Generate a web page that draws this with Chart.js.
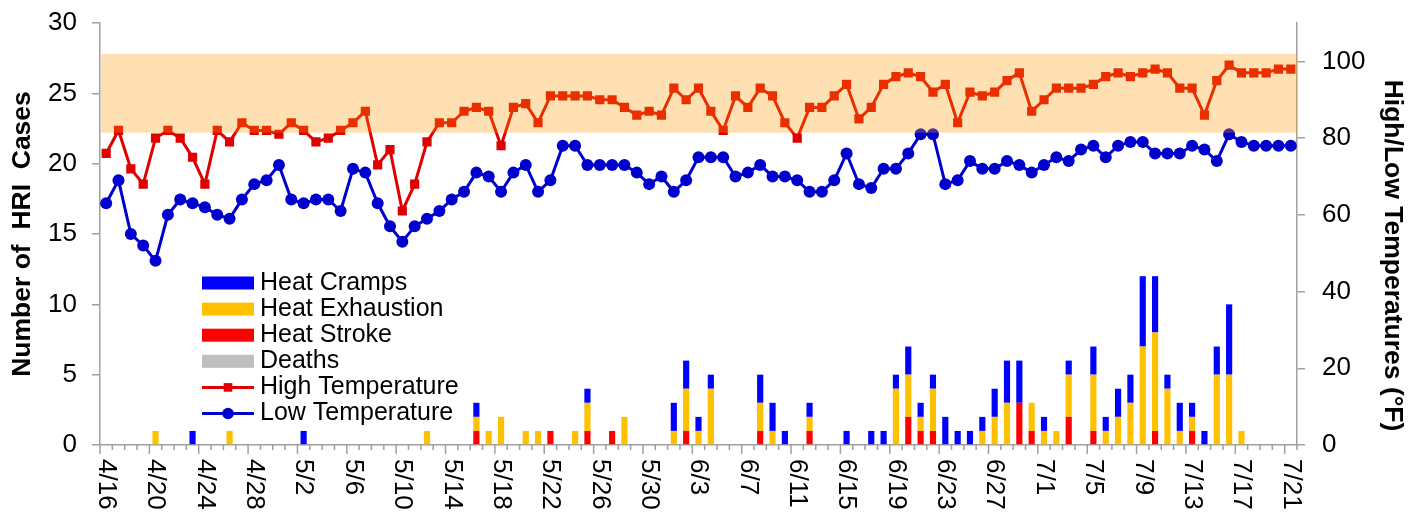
<!DOCTYPE html>
<html>
<head>
<meta charset="utf-8">
<script src="https://cdn.jsdelivr.net/npm/chart.js@4.4.0/dist/chart.umd.min.js"></script>
<style>
  html, body { margin: 0; padding: 0; background: #ffffff; }
  #wrap { width: 1419px; height: 514px; }
</style>
</head>
<body>
<div id="wrap"><canvas id="c" width="1419" height="514"></canvas></div>
<script>
// ---------------- data ----------------
const DATES = [
  '4/16','4/17','4/18','4/19','4/20','4/21','4/22','4/23','4/24','4/25','4/26','4/27','4/28','4/29','4/30',
  '5/1','5/2','5/3','5/4','5/5','5/6','5/7','5/8','5/9','5/10','5/11','5/12','5/13','5/14','5/15','5/16',
  '5/17','5/18','5/19','5/20','5/21','5/22','5/23','5/24','5/25','5/26','5/27','5/28','5/29','5/30','5/31',
  '6/1','6/2','6/3','6/4','6/5','6/6','6/7','6/8','6/9','6/10','6/11','6/12','6/13','6/14','6/15',
  '6/16','6/17','6/18','6/19','6/20','6/21','6/22','6/23','6/24','6/25','6/26','6/27','6/28','6/29','6/30',
  '7/1','7/2','7/3','7/4','7/5','7/6','7/7','7/8','7/9','7/10','7/11','7/12','7/13','7/14','7/15',
  '7/16','7/17','7/18','7/19','7/20','7/21'
];

const HEAT_STROKE = [
  0,0,0,0,0,0,0,0,0,0,
  0,0,0,0,0,0,0,0,0,0,
  0,0,0,0,0,0,0,0,0,0,
  1,0,0,0,0,0,1,0,0,1,
  0,1,0,0,0,0,0,1,0,0,
  0,0,0,1,0,0,0,1,0,0,
  0,0,0,0,0,2,1,1,0,0,
  0,0,0,0,3,1,0,0,2,0,
  1,0,0,0,0,1,0,0,1,0,
  0,0,0,0,0,0,0
];

const HEAT_EXHAUSTION = [
  0,0,0,0,1,0,0,0,0,0,
  1,0,0,0,0,0,0,0,0,0,
  0,0,0,0,0,0,1,0,0,0,
  1,1,2,0,1,1,0,0,1,2,
  0,0,2,0,0,0,1,3,1,4,
  0,0,0,2,1,0,0,1,0,0,
  0,0,0,0,4,3,1,3,0,0,
  0,1,2,3,0,2,1,1,3,0,
  4,1,2,3,7,7,4,1,1,0,
  5,5,1,0,0,0,0
];

const HEAT_CRAMPS = [
  0,0,0,0,0,0,0,1,0,0,
  0,0,0,0,0,0,1,0,0,0,
  0,0,0,0,0,0,0,0,0,0,
  1,0,0,0,0,0,0,0,0,1,
  0,0,0,0,0,0,2,2,1,1,
  0,0,0,2,2,1,0,1,0,0,
  1,0,1,1,1,2,1,1,2,1,
  1,1,2,3,3,0,1,0,1,0,
  2,1,2,2,5,4,1,2,1,1,
  2,5,0,0,0,0,0
];

const DEATHS = [
  0,0,0,0,0,0,0,0,0,0,
  0,0,0,0,0,0,0,0,0,0,
  0,0,0,0,0,0,0,0,0,0,
  0,0,0,0,0,0,0,0,0,0,
  0,0,0,0,0,0,0,0,0,0,
  0,0,0,0,0,0,0,0,0,0,
  0,0,0,0,0,0,0,0,0,0,
  0,0,0,0,0,0,0,0,0,0,
  0,0,0,0,0,0,0,0,0,0,
  0,0,0,0,0,0,0
];

const HIGH_TEMP = [
  76,82,72,68,80,82,80,75,68,82,
  79,84,82,82,81,84,82,79,80,82,
  84,87,73,77,61,68,79,84,84,87,
  88,87,78,88,89,84,91,91,91,91,
  90,90,88,86,87,86,93,90,93,87,
  82,91,88,93,91,84,80,88,88,91,
  94,85,88,94,96,97,96,92,94,84,
  92,91,92,95,97,87,90,93,93,93,
  94,96,97,96,97,98,97,93,93,86,
  95,99,97,97,97,98,98
];

const LOW_TEMP = [
  63,69,55,52,48,60,64,63,62,60,
  59,64,68,69,73,64,63,64,64,61,
  72,71,63,57,53,57,59,61,64,66,
  71,70,66,71,73,66,69,78,78,73,
  73,73,73,71,68,70,66,69,75,75,
  75,70,71,73,70,70,69,66,66,69,
  76,68,67,72,72,76,81,81,68,69,
  74,72,72,74,73,71,73,75,74,77,
  78,75,78,79,79,76,76,76,78,77,
  74,81,79,78,78,78,78
];

// shaded temperature band (right axis, °F)
const BAND_RANGE = [81.4, 101.9];
const LEFT_AXIS = { min: 0, max: 30, step: 5 };
const RIGHT_AXIS = { min: 0, max: 110, step: 20, lastLabel: 100 };
const LABEL_EVERY = 4;
const LEFT_TITLE = 'Number of  HRI  Cases';
const RIGHT_TITLE = 'High/Low Temperatures (°F)';
const LEGEND_ORDER = ['Heat Cramps', 'Heat Exhaustion', 'Heat Stroke', 'Deaths', 'High Temperature', 'Low Temperature'];

// ---------------- styling ----------------
const FONT = "'Liberation Sans', Arial, Helvetica, sans-serif";
const AXIS_GRAY = '#A0A0A0';
Chart.defaults.font.family = FONT;
Chart.defaults.color = '#000000';

const bandPlugin = {
  id: 'tempBand',
  afterDatasetsDraw(chart) {
    const { ctx, chartArea } = chart;
    const y2 = chart.scales.y2;
    const top = y2.getPixelForValue(BAND_RANGE[1]);
    const bot = y2.getPixelForValue(BAND_RANGE[0]);
    ctx.save();
    ctx.fillStyle = 'rgba(255,153,0,0.3)';
    ctx.fillRect(chartArea.left + 1, top, chartArea.right - chartArea.left - 1, bot - top);
    ctx.restore();
  }
};

const xAxisPlugin = {
  id: 'xAxisCustom',
  afterDraw(chart) {
    const { ctx, chartArea } = chart;
    const xs = chart.scales.x;
    const n = DATES.length;
    const w = xs.getPixelForValue(1) - xs.getPixelForValue(0);
    ctx.save();
    ctx.strokeStyle = AXIS_GRAY;
    ctx.lineWidth = 1.5;
    for (let i = 0; i <= n; i++) {
      const px = xs.getPixelForValue(Math.min(i, n - 1)) + (i < n ? -w / 2 : w / 2);
      const len = (i % LABEL_EVERY === 0) ? 9 : 5;
      ctx.beginPath();
      ctx.moveTo(px, chartArea.bottom);
      ctx.lineTo(px, chartArea.bottom + len);
      ctx.stroke();
    }
    ctx.fillStyle = '#000000';
    ctx.font = '26px ' + FONT;
    ctx.textAlign = 'left';
    ctx.textBaseline = 'middle';
    for (let i = 0; i < n; i += LABEL_EVERY) {
      const px = xs.getPixelForValue(i);
      ctx.save();
      ctx.translate(px, chartArea.bottom + 14);
      ctx.rotate(Math.PI / 2);
      ctx.fillText(DATES[i], 0, 0);
      ctx.restore();
    }
    // right axis title
    const y2 = chart.scales.y2;
    ctx.font = 'bold 26.5px ' + FONT;
    ctx.textAlign = 'center';
    ctx.textBaseline = 'middle';
    ctx.save();
    ctx.translate(y2.right - 26.5, chart.height / 2 - 1.5);
    ctx.rotate(Math.PI / 2);
    ctx.fillText(RIGHT_TITLE, 0, 0);
    ctx.restore();
    ctx.restore();
  }
};

const legendPlugin = {
  id: 'customLegend',
  afterDraw(chart) {
    const { ctx, chartArea } = chart;
    const x0 = chartArea.left + 102;
    const sw = 52;
    const y0 = chartArea.top + 260;
    const dy = 26.1;
    ctx.save();
    LEGEND_ORDER.forEach((label, k) => {
      const ds = chart.data.datasets.find(d => d.label === label);
      if (!ds) return;
      const cy = y0 + k * dy;
      if (ds.type === 'line') {
        ctx.strokeStyle = ds.borderColor;
        ctx.lineWidth = 3;
        ctx.beginPath();
        ctx.moveTo(x0, cy);
        ctx.lineTo(x0 + sw, cy);
        ctx.stroke();
        ctx.fillStyle = ds.borderColor;
        const cx = x0 + sw / 2;
        if (ds.pointStyle === 'rect') {
          ctx.fillRect(cx - 4.3, cy - 4.3, 8.6, 8.6);
        } else {
          ctx.beginPath();
          ctx.arc(cx, cy, 5.8, 0, Math.PI * 2);
          ctx.fill();
        }
      } else {
        ctx.fillStyle = ds.backgroundColor;
        ctx.fillRect(x0, cy - 6.5, sw, 13);
      }
      ctx.fillStyle = '#000000';
      ctx.font = '25px ' + FONT;
      ctx.textAlign = 'left';
      ctx.textBaseline = 'middle';
      ctx.fillText(label, x0 + sw + 6, cy);
    });
    ctx.restore();
  }
};

const tickFont = { size: 26, family: FONT };

new Chart(document.getElementById('c'), {
  type: 'bar',
  data: {
    labels: DATES,
    datasets: [
      { type: 'bar', label: 'Heat Stroke', data: HEAT_STROKE, backgroundColor: '#FF0000', yAxisID: 'y', borderWidth: 0 },
      { type: 'bar', label: 'Heat Exhaustion', data: HEAT_EXHAUSTION, backgroundColor: '#FFC000', yAxisID: 'y', borderWidth: 0 },
      { type: 'bar', label: 'Heat Cramps', data: HEAT_CRAMPS, backgroundColor: '#0000FF', yAxisID: 'y', borderWidth: 0 },
      { type: 'bar', label: 'Deaths', data: DEATHS, backgroundColor: '#BFBFBF', yAxisID: 'y', borderWidth: 0 },
      { type: 'line', label: 'High Temperature', data: HIGH_TEMP, yAxisID: 'y2',
        borderColor: '#E00000', backgroundColor: '#E00000', borderWidth: 3,
        pointStyle: 'rect', pointRadius: 6.5, pointBorderWidth: 0, pointBackgroundColor: '#E00000', tension: 0, fill: false },
      { type: 'line', label: 'Low Temperature', data: LOW_TEMP, yAxisID: 'y2',
        borderColor: '#0000CC', backgroundColor: '#0000CC', borderWidth: 3,
        pointStyle: 'circle', pointRadius: 6, pointBorderWidth: 0, pointBackgroundColor: '#0000CC', tension: 0, fill: false }
    ]
  },
  options: {
    responsive: false,
    animation: false,
    devicePixelRatio: 1,
    layout: { padding: { top: 23, left: 0, right: 0, bottom: 0 } },
    datasets: { bar: { barPercentage: 0.5, categoryPercentage: 1.0 } },
    plugins: { legend: { display: false }, tooltip: { enabled: false }, title: { display: false } },
    scales: {
      x: {
        type: 'category', offset: true, stacked: true,
        grid: { display: false, drawTicks: false },
        border: { display: true, color: AXIS_GRAY, width: 1.5 },
        ticks: { display: false },
        afterFit(s) { s.height = 69; s.paddingLeft = 0; s.paddingRight = 0; }
      },
      y: {
        position: 'left', stacked: true,
        min: LEFT_AXIS.min, max: LEFT_AXIS.max,
        ticks: { stepSize: LEFT_AXIS.step, padding: 15, font: tickFont, color: '#000000' },
        grid: { drawOnChartArea: false, drawTicks: true, tickLength: 8, color: AXIS_GRAY, lineWidth: 1.5 },
        border: { display: true, color: AXIS_GRAY, width: 1.5 },
        title: { display: true, text: LEFT_TITLE, color: '#000000',
                 font: { size: 26.5, weight: 'bold', family: FONT }, padding: { top: 7, bottom: 0 } },
        afterFit(s) { s.width = 100; s.paddingTop = 0; s.paddingBottom = 0; }
      },
      y2: {
        position: 'right', stacked: false, bounds: 'data',
        min: RIGHT_AXIS.min, max: RIGHT_AXIS.max,
        ticks: { stepSize: RIGHT_AXIS.step, padding: 17, font: tickFont, color: '#000000' },
        afterBuildTicks(s) { s.ticks = s.ticks.filter(t => t.value <= RIGHT_AXIS.lastLabel); },
        grid: { drawOnChartArea: false, drawTicks: true, tickLength: 8, color: AXIS_GRAY, lineWidth: 1.5 },
        border: { display: true, color: AXIS_GRAY, width: 1.5 },
        afterFit(s) { s.width = 122; s.paddingTop = 0; s.paddingBottom = 0; }
      }
    }
  },
  plugins: [bandPlugin, xAxisPlugin, legendPlugin]
});
</script>
</body>
</html>
